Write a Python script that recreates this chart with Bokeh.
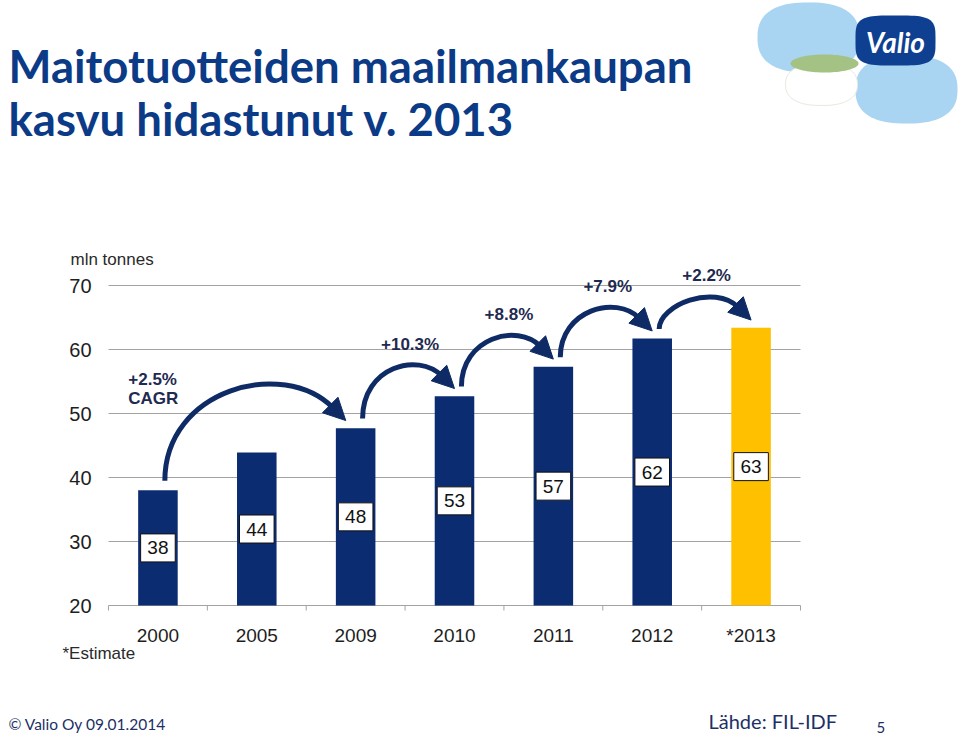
import numpy as np
from bokeh.plotting import figure
from bokeh.models import (Range1d, ColumnDataSource, Label, Arrow, NormalHead)
from bokeh.core.properties import value
from bokeh.embed import file_html
from bokeh.resources import INLINE

# ---------------- data ----------------
years = ["2000", "2005", "2009", "2010", "2011", "2012", "*2013"]
production = [38.0, 43.9, 47.7, 52.7, 57.3, 61.7, 63.4]          # mln tonnes
production_labels = ["38", "44", "48", "53", "57", "62", "63"]
is_estimate = [False, False, False, False, False, False, True]
y_ticks = [20, 30, 40, 50, 60, 70]
growth_from = ["2000", "2009", "2010", "2011", "2012"]
growth_to = ["2009", "2010", "2011", "2012", "*2013"]
growth_labels = ["+2.5%\nCAGR", "+10.3%", "+8.8%", "+7.9%", "+2.2%"]

# ---------------- style / layout ----------------
NAVY = "#0c2c72"
ARROW = "#0f2b66"
YELLOW = "#ffc000"
TITLE = "#0b3a87"
GRID = "#a3a3a3"
TXT = "#1e1e1e"

W, H = 960, 738
n = len(years)
PLOT_L, PLOT_R = 108, 800         # page px of the category axis ends
BASE_PX, PX_PER_UNIT = 605, 6.4   # page px of y=20 and px per mln tonnes
Y0 = y_ticks[0]
px_x = (PLOT_R - PLOT_L) / n

x_range = Range1d(-PLOT_L / px_x, (W - PLOT_L) / px_x)
y_range = Range1d(Y0 - (H - BASE_PX) / PX_PER_UNIT, Y0 + BASE_PX / PX_PER_UNIT)

p = figure(width=W, height=H, x_range=x_range, y_range=y_range,
           output_backend="svg", toolbar_location=None,
           x_axis_location=None, y_axis_location=None,
           min_border=0, min_border_left=0, min_border_right=0,
           min_border_top=0, min_border_bottom=0)
p.outline_line_color = None
p.grid.visible = False
p.background_fill_color = "white"
p.border_fill_color = "white"


def dx(page_x):
    return (page_x - PLOT_L) / px_x


def dy(page_y):
    return Y0 + (BASE_PX - page_y) / PX_PER_UNIT


xs = np.arange(n) + 0.5

# grid lines and axis
p.segment(x0=0, x1=n, y0=y_ticks, y1=y_ticks, line_color=GRID, line_width=1)
p.segment(x0=list(range(n + 1)), x1=list(range(n + 1)), y0=Y0,
          y1=Y0 - 5 / PX_PER_UNIT, line_color=GRID, line_width=1)
p.text(x=dx(91), y=y_ticks, text=[str(t) for t in y_ticks], text_align="right",
       text_baseline="middle", text_font=value("Liberation Sans"),
       text_font_size="20px", text_color=TXT)
p.text(x=xs, y=dy(635), text=years, text_align="center", text_baseline="middle",
       text_font=value("Liberation Sans"), text_font_size="19px", text_color=TXT)

# bars
colors = [YELLOW if e else NAVY for e in is_estimate]
src = ColumnDataSource(dict(x=xs, top=production, color=colors,
                            mid=[(Y0 + v) / 2 for v in production],
                            lab=production_labels))
p.vbar(x="x", top="top", bottom=Y0, width=0.4, fill_color="color",
       line_color=None, source=src)
p.rect(x="x", y="mid", width=0.35, height=28, height_units="screen",
       fill_color="white", line_color="#111111", line_width=1, source=src)
p.text(x="x", y="mid", text="lab", text_align="center", text_baseline="middle",
       text_font=value("Liberation Sans"), text_font_size="19px",
       text_color="#111111", source=src)

# growth arrows
idx = {y: i for i, y in enumerate(years)}
val = dict(zip(years, production))
head = 18
cur = dict(x0=[], y0=[], x1=[], y1=[], cx0=[], cy0=[], cx1=[], cy1=[])
heads = dict(bx=[], by=[], tx=[], ty=[])
lab_main = dict(x=[], y=[], t=[])
lab_first = dict(x=[], y=[], t=[])
for k, (a, b, lab) in enumerate(zip(growth_from, growth_to, growth_labels)):
    i, j = idx[a], idx[b]
    span = j - i
    sx, sy = i + 0.57, val[a] + 1.5
    tx, ty = j + 0.5 - 0.1 * (span - 1), val[b] + 1.2
    u = head / np.sqrt(2)
    bx, by = tx - u / px_x, ty + u / PX_PER_UNIT
    w = bx - sx
    d = 0.3 * w
    c2x, c2y = bx - d, by + d * px_x / PX_PER_UNIT
    ytop = val[b] + 4.3 + 1.5 * (span - 1)
    c1x, c1y = sx, (8 * ytop - sy - 3 * c2y - by) / 3
    cur["x0"].append(sx); cur["y0"].append(sy)
    cur["x1"].append(bx); cur["y1"].append(by)
    cur["cx0"].append(c1x); cur["cy0"].append(c1y)
    cur["cx1"].append(c2x); cur["cy1"].append(c2y)
    heads["bx"].append(bx); heads["by"].append(by)
    heads["tx"].append(tx); heads["ty"].append(ty)
    peakx = (sx + 3 * c1x + 3 * c2x + bx) / 8
    if k == 0:
        lab_first["x"].append(sx - 0.37); lab_first["y"].append(ytop + 0.4)
        lab_first["t"].append(lab)
    else:
        lab_main["x"].append(peakx + 0.17); lab_main["y"].append(ytop + 3.8)
        lab_main["t"].append(lab)

p.bezier(x0="x0", y0="y0", x1="x1", y1="y1", cx0="cx0", cy0="cy0",
         cx1="cx1", cy1="cy1", line_color=ARROW, line_width=5,
         source=ColumnDataSource(cur))
p.add_layout(Arrow(end=NormalHead(size=22, fill_color=ARROW, line_color=ARROW),
                   x_start="bx", y_start="by", x_end="tx", y_end="ty",
                   line_color=ARROW, line_width=5,
                   source=ColumnDataSource(heads)))
p.text(x="x", y="y", text="t", text_align="center", text_baseline="middle",
       text_font=value("Liberation Sans"), text_font_style="bold",
       text_font_size="17px", text_color="#1f2a50",
       source=ColumnDataSource(lab_main))
p.text(x="x", y="y", text="t", text_align="left", text_baseline="middle",
       text_font=value("Liberation Sans"), text_font_style="bold",
       text_font_size="17px", text_color="#1f2a50", text_line_height=1.0,
       source=ColumnDataSource(lab_first))

# side texts
p.add_layout(Label(x=dx(70), y=dy(268), text="mln tonnes", text_font="Liberation Sans",
                   text_font_size="17px", text_color="#2a2a2a"))
p.add_layout(Label(x=dx(62), y=dy(662), text="*Estimate", text_font="Liberation Sans",
                   text_font_size="17px", text_color="#2a2a2a"))

# title
p.add_layout(Label(x=dx(8), y=dy(92), text="Maitotuotteiden maailmankaupan",
                   text_font="Lato", text_font_style="bold", text_font_size="45.5px",
                   text_color=TITLE))
p.add_layout(Label(x=dx(8), y=dy(145), text="kasvu hidastunut v. 2013",
                   text_font="Lato", text_font_style="bold", text_font_size="45.5px",
                   text_color=TITLE))

# footer
p.add_layout(Label(x=dx(8), y=dy(732), text="\u00a9 Valio Oy 09.01.2014",
                   text_font="Lato", text_font_size="15.5px", text_color="#1c2f66"))
p.add_layout(Label(x=dx(708), y=dy(732), text="L\u00e4hde: FIL-IDF",
                   text_font="Lato", text_font_size="20px", text_color="#1c2f66"))
p.add_layout(Label(x=dx(876), y=dy(732), text="5",
                   text_font="Lato", text_font_size="15px", text_color="#1c2f66"))


# logo (decoration)
def blob(cx, cy, rx, ry, e=2.8):
    t = np.linspace(0, 2 * np.pi, 90)
    c, s = np.cos(t), np.sin(t)
    px = cx + rx * np.sign(c) * np.abs(c) ** (2 / e)
    py = cy + ry * np.sign(s) * np.abs(s) ** (2 / e)
    return [dx(v) for v in px], [dy(v) for v in py]


for (cx, cy, rx, ry, e, fc, lc) in [
    (808, 37, 51, 35, 2.5, "#a9d4f2", None),
    (906, 89, 51, 34, 2.5, "#a9d4f2", None),
    (821, 84, 36, 21, 2.4, "white", "#e3ebdd"),
    (824, 63, 34, 9, 2.0, "#a3c283", None),
    (895, 40, 40, 25, 4.0, "#0e3f91", None),
]:
    bxs, bys = blob(cx, cy, rx, ry, e)
    p.patch(x=bxs, y=bys, fill_color=fc, line_color=lc, line_width=1)
p.add_layout(Label(x=dx(895), y=dy(41), text="Valio", text_font="Lato",
                   text_font_style="bold italic", text_font_size="28px",
                   text_color="white", text_align="center", text_baseline="middle"))

open("out.html", "w").write(file_html(p, INLINE))
